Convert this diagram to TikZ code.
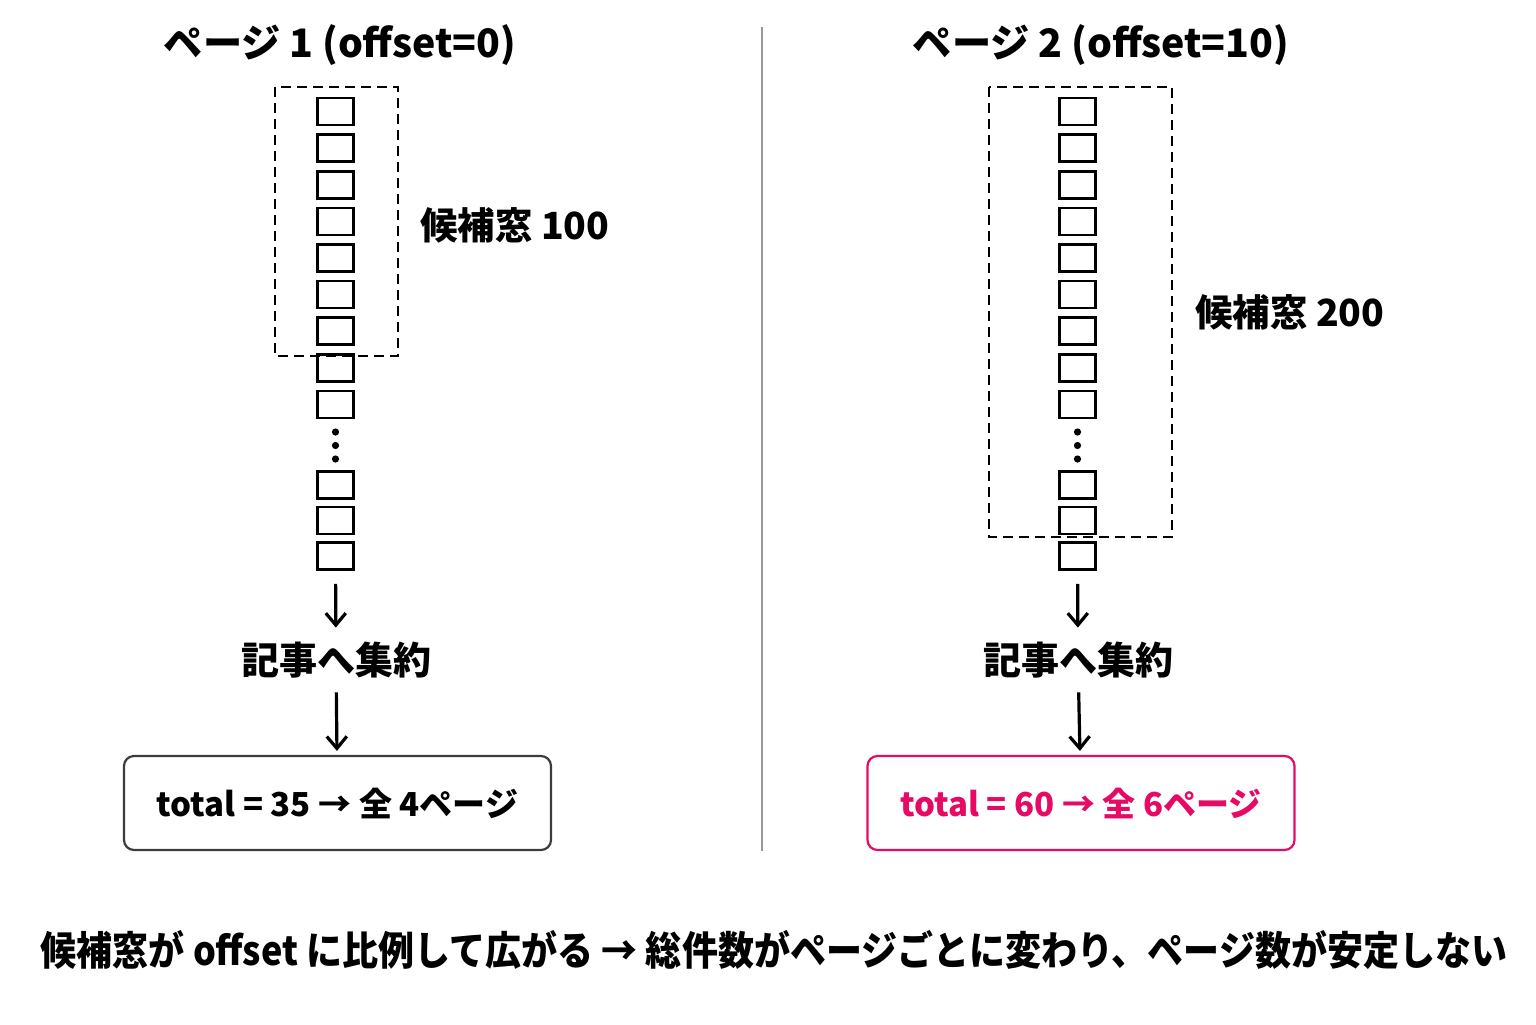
\documentclass[tikz,border=0pt]{standalone}
\usepackage{fontspec}
\setmainfont{Noto Sans CJK JP}
\usetikzlibrary{arrows.meta}
\definecolor{hotpink}{RGB}{230,10,100}
\definecolor{frame}{RGB}{60,60,60}

\begin{document}
\begin{tikzpicture}[x=0.5pt,y=-0.5pt,
	cell/.style={draw, rectangle, line width=1.3pt, minimum width=18pt, minimum height=13.5pt, inner sep=0pt},
	window/.style={draw, line width=1.2pt, dash pattern=on 5pt off 3pt},
	title/.style={font=\fontsize{19.6}{24}\selectfont\bfseries},
	lbl/.style={font=\fontsize{18.7}{23}\selectfont\bfseries, inner sep=0pt},
	agg/.style={font=\fontsize{19}{23}\selectfont\bfseries, inner sep=0pt, minimum height=32pt},
	result/.style={draw, rectangle, rounded corners=5pt, line width=1.1pt, minimum width=213.5pt, minimum height=47pt, font=\fontsize{16.5}{20}\selectfont\bfseries},
	flow/.style={line width=1.6pt, -{Straight Barb[length=6pt,width=10pt,line width=1.6pt]}}]
	\useasboundingbox (0,0) rectangle (1536,1024);

	% page 1
	\node[title] (T1) at (340,45) {ページ 1 (offset=0)};
	\foreach \i in {0,...,8}
		\node[cell] (L\i) at (335.5,111.5+36.6*\i) {};
	\foreach \d in {432,445.5,459}
		\fill (335.5,\d) circle (1.8pt);
	\node[cell] (LA) at (335.5,485) {};
	\node[cell] (LB) at (335.5,520.5) {};
	\node[cell] (LC) at (335.5,556) {};
	\draw[window] (275,87) rectangle (398,356);
	\node[lbl, anchor=west] (W1) at (420,225) {候補窓 100};
	\node[agg] (G1) at (336,660) {記事へ集約};
	\node[result, draw=frame] (R1) at (337.5,803) {total = 35 → 全 4ページ};
	\draw[flow, shorten <=6.5pt] (LC) -- (G1);
	\draw[flow, shorten >=2pt] (G1) -- (R1);

	% divider
	\draw[line width=0.7pt, black!40] (762,27) -- (762,851);

	% page 2
	\node[title] (T2) at (1101,45) {ページ 2 (offset=10)};
	\foreach \i in {0,...,8}
		\node[cell] (M\i) at (1077.5,111.5+36.6*\i) {};
	\foreach \d in {432,445.5,459}
		\fill (1077.5,\d) circle (1.8pt);
	\node[cell] (MA) at (1077.5,485) {};
	\node[cell] (MB) at (1077.5,520.5) {};
	\node[cell] (MC) at (1077.5,556) {};
	\draw[window] (989,87) rectangle (1172,537);
	\node[lbl, anchor=west] (W2) at (1195,312) {候補窓 200};
	\node[agg] (G2) at (1078,660) {記事へ集約};
	\node[result, draw=hotpink, text=hotpink] (R2) at (1081,803) {total = 60 → 全 6ページ};
	\draw[flow, shorten <=6.5pt] (MC) -- (G2);
	\draw[flow, shorten >=2pt] (G2) -- (R2);

	% conclusion
	\node[font=\fontsize{20}{24}\selectfont\bfseries, xscale=0.9, transform shape] (C) at (774,950)
	{候補窓が offset に比例して広がる → 総件数がページごとに変わり、ページ数が安定しない};
\end{tikzpicture}
\end{document}
